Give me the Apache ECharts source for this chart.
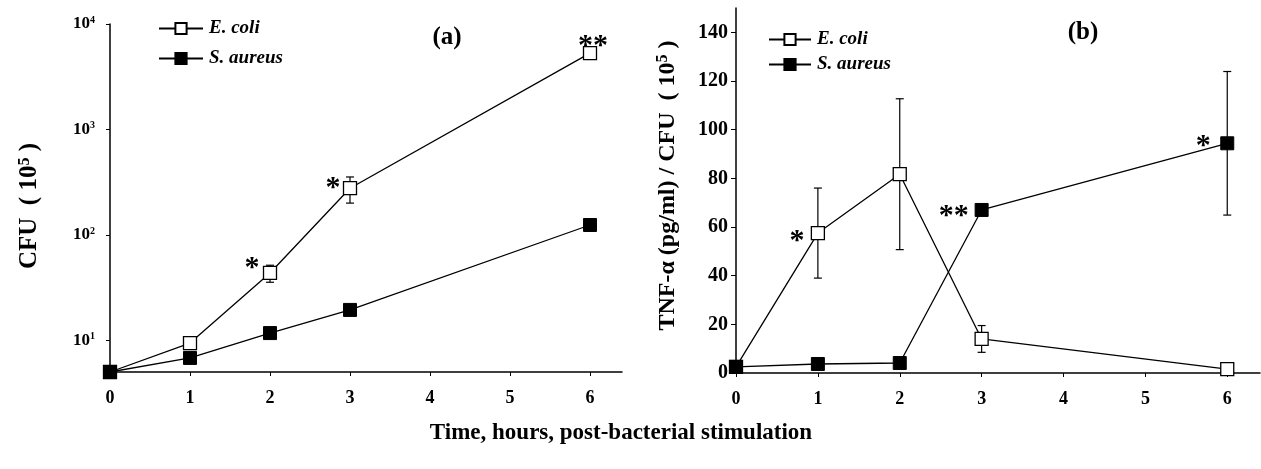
<!DOCTYPE html>
<html>
<head>
<meta charset="utf-8">
<title>CFU and TNF-alpha after bacterial stimulation</title>
<script src="https://cdn.jsdelivr.net/npm/echarts@6/dist/echarts.min.js"></script>
<style>html,body{margin:0;background:#fff}#main{width:1261px;height:469px}</style>
</head>
<body>
<div id="main"></div>
<script>
var hours = [0, 1, 2, 3, 6];
var xTicks = [0, 1, 2, 3, 4, 5, 6];

// (a) CFU (10^5), log axis
var cfuEcoli = [5, 9.4, 43.5, 277, 5300];
var cfuEcoliSd = [null, null, 8, 77, null];
var cfuSaureus = [5, 6.8, 11.7, 19.4, 124];
var cfuEcoliMarks = ['', '', '*', '*', '**'];

// (b) TNF-a (pg/ml) / CFU (10^5)
var tnfEcoli = [2.5, 57.5, 81.7, 14, 1.6];
var tnfEcoliSd = [null, 18.5, 31, 5.5, null];
var tnfSaureus = [2.5, 3.7, 4.1, 67, 94.4];
var tnfSaureusSd = [null, null, null, null, 29.5];
var tnfEcoliMarks = ['', '*', '', '', ''];
var tnfSaureusMarks = ['', '', '', '**', '*'];
var yTicksB = [0, 20, 40, 60, 80, 100, 120, 140];

// where the asterisks sit next to their square
var starOffA = [null, null, [-18, -5], [-17, 0], [3, -7]];
var starOffBe = [null, [-21, 8], null, null, null];
var starOffBs = [null, null, null, [-28, 6], [-24, 3]];

var FONT = 'Liberation Serif';

function points(vals, marks, offs) {
  return vals.map(function (v, i) {
    var item = { value: [hours[i], v] };
    if (marks && marks[i]) {
      item.label = {
        show: true, formatter: marks[i], position: 'inside', offset: offs[i],
        color: '#000', fontFamily: FONT, fontWeight: 'bold', fontSize: 30
      };
    }
    return item;
  });
}

function errData(vals, sd) {
  var out = [];
  vals.forEach(function (v, i) {
    if (sd[i] != null) out.push([hours[i], v - sd[i], v + sd[i]]);
  });
  return out;
}

function errorBars(params, api) {
  var x = api.value(0);
  var top = api.coord([x, api.value(2)]);
  var bot = api.coord([x, api.value(1)]);
  var cap = 4;
  var st = { stroke: '#000', lineWidth: 1.2 };
  return {
    type: 'group', children: [
      { type: 'line', shape: { x1: top[0], y1: top[1], x2: bot[0], y2: bot[1] }, style: st },
      { type: 'line', shape: { x1: top[0] - cap, y1: top[1], x2: top[0] + cap, y2: top[1] }, style: st },
      { type: 'line', shape: { x1: bot[0] - cap, y1: bot[1], x2: bot[0] + cap, y2: bot[1] }, style: st }
    ]
  };
}

var openSq = { color: '#fff', borderColor: '#000', borderWidth: 1.3 };
var fullSq = { color: '#000', borderColor: '#000', borderWidth: 1 };
var lineSt = { color: '#000', width: 1.3 };

function lineSeries(name, idx, data, item) {
  return {
    name: name, type: 'line', xAxisIndex: idx, yAxisIndex: idx, data: data,
    symbol: 'rect', symbolSize: 13, showAllSymbol: true,
    itemStyle: item, lineStyle: lineSt, z: 3,
    emphasis: { disabled: true }, animation: false
  };
}

function errSeries(idx, data) {
  return {
    name: 'sd', type: 'custom', xAxisIndex: idx, yAxisIndex: idx,
    renderItem: errorBars, data: data, encode: { x: 0, y: [1, 2] }, z: 1,
    animation: false, silent: true
  };
}

var axisTxt = { color: '#000', fontFamily: FONT, fontWeight: 'bold', fontSize: 18 };

function xAxis(idx) {
  return {
    type: 'value', gridIndex: idx, min: 0, max: 6.4,
    axisLine: { lineStyle: { color: '#000', width: 1.5 } },
    axisTick: { customValues: xTicks, length: 4, lineStyle: { color: '#000' } },
    axisLabel: Object.assign({ customValues: xTicks, margin: 17 }, axisTxt),
    splitLine: { show: false }
  };
}

var legendTxt = { color: '#000', fontFamily: FONT, fontWeight: 'bold', fontStyle: 'italic', fontSize: 19, padding: [0, 0, 0, 1] };

var chart = echarts.init(document.getElementById('main'));
chart.setOption({
  backgroundColor: '#fff',
  animation: false,
  grid: [
    { left: 110, top: 24, width: 512, height: 348 },
    { left: 736, top: 8, width: 524, height: 365 }
  ],
  legend: [
    { data: ['E. coli', 'S. aureus'], orient: 'vertical', left: 153, top: 14, itemWidth: 44, itemHeight: 14, itemGap: 11, textStyle: legendTxt, selectedMode: false },
    { data: ['E. coli', 'S. aureus'], orient: 'vertical', left: 763, top: 25, itemWidth: 42, itemHeight: 14, itemGap: 6, textStyle: legendTxt, selectedMode: false }
  ],
  xAxis: [xAxis(0), xAxis(1)],
  yAxis: [
    {
      type: 'log', gridIndex: 0, min: 5, max: 10000, logBase: 10,
      name: '{b|CFU  ( 10}{s|5}{b| )}', nameLocation: 'middle', nameGap: 68,
      nameTextStyle: {
        color: '#000', fontFamily: FONT, fontWeight: 'bold', fontSize: 25, padding: [0, 16, 0, 0],
        rich: {
          b: { fontFamily: FONT, fontWeight: 'bold', fontSize: 25, color: '#000' },
          s: { fontFamily: FONT, fontWeight: 'bold', fontSize: 16, color: '#000', verticalAlign: 'top', padding: [0, 0, 9, 0] }
        }
      },
      axisLine: { show: true, lineStyle: { color: '#000', width: 1.5 } },
      axisTick: { show: true, inside: false, length: 4, lineStyle: { color: '#000' } },
      minorTick: { show: false },
      axisLabel: {
        margin: 15, color: '#000',
        formatter: function (v) {
          var p = Math.log(v) / Math.LN10;
          if (Math.abs(p - Math.round(p)) > 1e-6) return '';
          return '{b|10}{s|' + Math.round(p) + '}';
        },
        rich: {
          b: { fontFamily: FONT, fontWeight: 'bold', fontSize: 17, color: '#000' },
          s: { fontFamily: FONT, fontWeight: 'bold', fontSize: 10, color: '#000', verticalAlign: 'top', padding: [0, 0, 6, 0] }
        }
      },
      splitLine: { show: false }
    },
    {
      type: 'value', gridIndex: 1, min: 0, max: 150,
      name: '{b|TNF-α (pg/ml) / CFU  ( 10}{s|5}{b| )}', nameLocation: 'middle', nameGap: 56,
      nameTextStyle: {
        color: '#000', fontFamily: FONT, fontWeight: 'bold', fontSize: 24, padding: [0, 0, 0, 10],
        rich: {
          b: { fontFamily: FONT, fontWeight: 'bold', fontSize: 24, color: '#000' },
          s: { fontFamily: FONT, fontWeight: 'bold', fontSize: 16, color: '#000', verticalAlign: 'top', padding: [0, 0, 9, 0] }
        }
      },
      axisLine: { show: true, lineStyle: { color: '#000', width: 1.5 } },
      axisTick: { show: true, customValues: yTicksB, length: 5, lineStyle: { color: '#000' } },
      axisLabel: Object.assign({ customValues: yTicksB, margin: 8 }, axisTxt, { fontSize: 20 }),
      splitLine: { show: false }
    }
  ],
  graphic: [
    { type: 'text', x: 447, y: 38, style: { text: '(a)', align: 'center', verticalAlign: 'middle', font: 'bold 25px "Liberation Serif"', fill: '#000' } },
    { type: 'text', x: 1083, y: 33, style: { text: '(b)', align: 'center', verticalAlign: 'middle', font: 'bold 25px "Liberation Serif"', fill: '#000' } },
    { type: 'text', x: 621, y: 433, style: { text: 'Time, hours, post-bacterial stimulation', align: 'center', verticalAlign: 'middle', font: 'bold 23px "Liberation Serif"', fill: '#000' } }
  ],
  series: [
    errSeries(0, errData(cfuEcoli, cfuEcoliSd)),
    lineSeries('E. coli', 0, points(cfuEcoli, cfuEcoliMarks, starOffA), openSq),
    lineSeries('S. aureus', 0, points(cfuSaureus), fullSq),
    errSeries(1, errData(tnfEcoli, tnfEcoliSd).concat(errData(tnfSaureus, tnfSaureusSd))),
    lineSeries('E. coli', 1, points(tnfEcoli, tnfEcoliMarks, starOffBe), openSq),
    lineSeries('S. aureus', 1, points(tnfSaureus, tnfSaureusMarks, starOffBs), fullSq)
  ]
});
</script>
</body>
</html>
